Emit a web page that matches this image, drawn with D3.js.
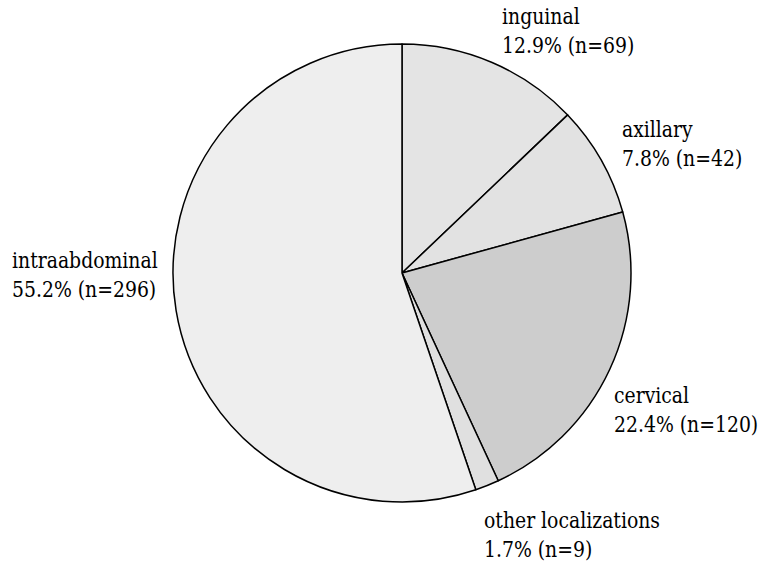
<!DOCTYPE html>
<html><head><meta charset="utf-8">
<script src="https://cdn.jsdelivr.net/npm/d3@7"></script>
<style>html,body{margin:0;padding:0;background:#fff;}svg{display:block;}
text.lab{font-family:"DejaVu Serif",serif;font-size:22px;}</style>
</head><body>
<svg id="chart" width="764" height="567"></svg>
<script>
const categories = ["inguinal","axillary","cervical","other localizations","intraabdominal"];
const counts = [69, 42, 120, 9, 296];
const percents = ["12.9%","7.8%","22.4%","1.7%","55.2%"];
const colors = ["#e4e4e4","#e2e2e2","#cdcdcd","#e0e0e0","#eeeeee"];
const labelPos = [[502,24],[622,137],[614,403],[484,528],[12,268]];

const svg = d3.select("#chart");
const cx = 402, cy = 273, r = 229;
const data = categories.map((c,i)=>({name:c, n:counts[i], pct:percents[i], color:colors[i], lp:labelPos[i]}));
const pie = d3.pie().value(d=>d.n).sort(null);
const arc = d3.arc().innerRadius(0).outerRadius(r);
const g = svg.append("g").attr("transform",`translate(${cx},${cy})`);
g.selectAll("path").data(pie(data)).join("path")
  .attr("d",arc).attr("fill",d=>d.data.color)
  .attr("stroke","#000").attr("stroke-width",1.5).attr("stroke-linejoin","round");

const lines = [];
data.forEach(d=>{
  lines.push({t:d.name, x:d.lp[0], y:d.lp[1]});
  lines.push({t:`${d.pct} (n=${d.n})`, x:d.lp[0], y:d.lp[1]+29});
});
svg.selectAll("text.lab").data(lines).join("text")
  .attr("class","lab").attr("fill","#000")
  .attr("x",d=>d.x).attr("y",d=>d.y).text(d=>d.t)
  .each(function(){
    const w = this.getComputedTextLength();
    d3.select(this).attr("textLength", w*0.855).attr("lengthAdjust","spacingAndGlyphs");
  });
</script>
</body></html>
